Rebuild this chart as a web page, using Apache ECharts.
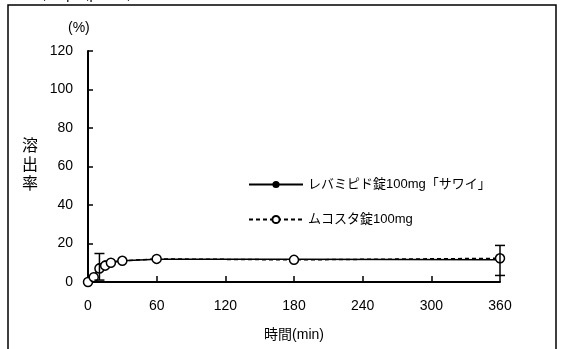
<!DOCTYPE html>
<html>
<head>
<meta charset="utf-8">
<script src="https://cdn.jsdelivr.net/npm/echarts@6/dist/echarts.min.js"></script>
<style>
  html, body { margin: 0; padding: 0; background: #fff; }
  #chart { width: 563px; height: 349px; }
</style>
</head>
<body>
<div id="chart"></div>
<script>
// 時間(min)
const times = [0, 5, 10, 15, 20, 30, 60, 180, 360];
// レバミピド錠100mg「サワイ」
const sawaiValues = [0, 3, 8, 9.5, 10.5, 11, 11.8, 11.8, 11.5];
// ムコスタ錠100mg
const mucostaValues = [0, 2.5, 7, 8.5, 10, 11, 12, 11.5, 12.3];
// error bars of the first series: [time, low, high]
const errorBars = [[10, 1, 14.8], [360, 3.4, 19]];
const xTicks = [0, 60, 120, 180, 240, 300, 360];

const FONT = "'Liberation Sans', 'Noto Sans CJK JP', sans-serif";
const seriesNames = ['レバミピド錠100mg「サワイ」', 'ムコスタ錠100mg'];

const chart = echarts.init(document.getElementById('chart'));

const option = {
    animation: false,
    textStyle: { fontFamily: FONT, color: '#000' },
    grid: { left: 88, right: 63, top: 51, bottom: 67 },
    legend: {
        orient: 'vertical',
        left: 243,
        top: 173,
        itemWidth: 54,
        itemHeight: 9,
        itemGap: 22,
        textStyle: { fontSize: 13, color: '#000', fontFamily: FONT },
        data: seriesNames
    },
    xAxis: {
        type: 'value',
        min: 0,
        max: 360,
        interval: 60,
        name: '時間(min)',
        nameLocation: 'middle',
        nameGap: 46,
        nameTextStyle: { fontSize: 14, color: '#000' },
        axisLine: { lineStyle: { color: '#000', width: 2 } },
        axisTick: { inside: true, length: 6, lineStyle: { color: '#000', width: 1.5 } },
        axisLabel: { fontSize: 14, color: '#000', margin: 17,
            formatter: v => xTicks.includes(v) ? String(v) : '' },
        splitLine: { show: false }
    },
    yAxis: {
        type: 'value',
        min: 0,
        max: 120,
        interval: 20,
        axisLine: { show: true, lineStyle: { color: '#000', width: 2 } },
        axisTick: { show: true, inside: true, length: 5, lineStyle: { color: '#000', width: 1.5 } },
        axisLabel: { fontSize: 14, color: '#000', margin: 15 },
        splitLine: { show: false }
    },
    graphic: [
        { type: 'rect', shape: { x: 8, y: 5, width: 548, height: 360 },
          style: { fill: 'none', stroke: '#000', lineWidth: 1.5 }, silent: true },
        { type: 'text', left: 32, top: -12,
          style: { text: '（50rpm,pH1.2）', font: '14px ' + FONT, fill: '#000' } },
        { type: 'text', left: 68, top: 21,
          style: { text: '(%)', font: '14px ' + FONT, fill: '#000' } },
        { type: 'text', left: 22, top: 137,
          style: { text: '溶\n出\n率', font: '16px ' + FONT, lineHeight: 19, fill: '#000' } }
    ],
    series: [
        {
            name: seriesNames[0],
            type: 'line',
            data: times.map((t, i) => [t, sawaiValues[i]]),
            symbol: 'circle',
            symbolSize: 7,
            itemStyle: { color: '#000' },
            lineStyle: { color: '#000', width: 1.5 },
            z: 2
        },
        {
            name: seriesNames[1],
            type: 'line',
            data: times.map((t, i) => [t, mucostaValues[i]]),
            symbol: 'circle',
            symbolSize: 9,
            itemStyle: { color: '#fff', borderColor: '#000', borderWidth: 1.5 },
            lineStyle: { color: '#000', width: 1.5, type: [4, 3] },
            z: 3
        },
        {
            type: 'custom',
            name: 'error',
            data: errorBars,
            z: 4,
            renderItem: function (params, api) {
                const x = api.value(0);
                const lo = api.coord([x, api.value(1)]);
                const hi = api.coord([x, api.value(2)]);
                const hw = 5;
                const st = { stroke: '#000', lineWidth: 1.5 };
                return {
                    type: 'group',
                    children: [
                        { type: 'line', shape: { x1: hi[0], y1: hi[1], x2: lo[0], y2: lo[1] }, style: st },
                        { type: 'line', shape: { x1: hi[0] - hw, y1: hi[1], x2: hi[0] + hw, y2: hi[1] }, style: st },
                        { type: 'line', shape: { x1: lo[0] - hw, y1: lo[1], x2: lo[0] + hw, y2: lo[1] }, style: st }
                    ]
                };
            }
        }
    ]
};

chart.setOption(option);
</script>
</body>
</html>
